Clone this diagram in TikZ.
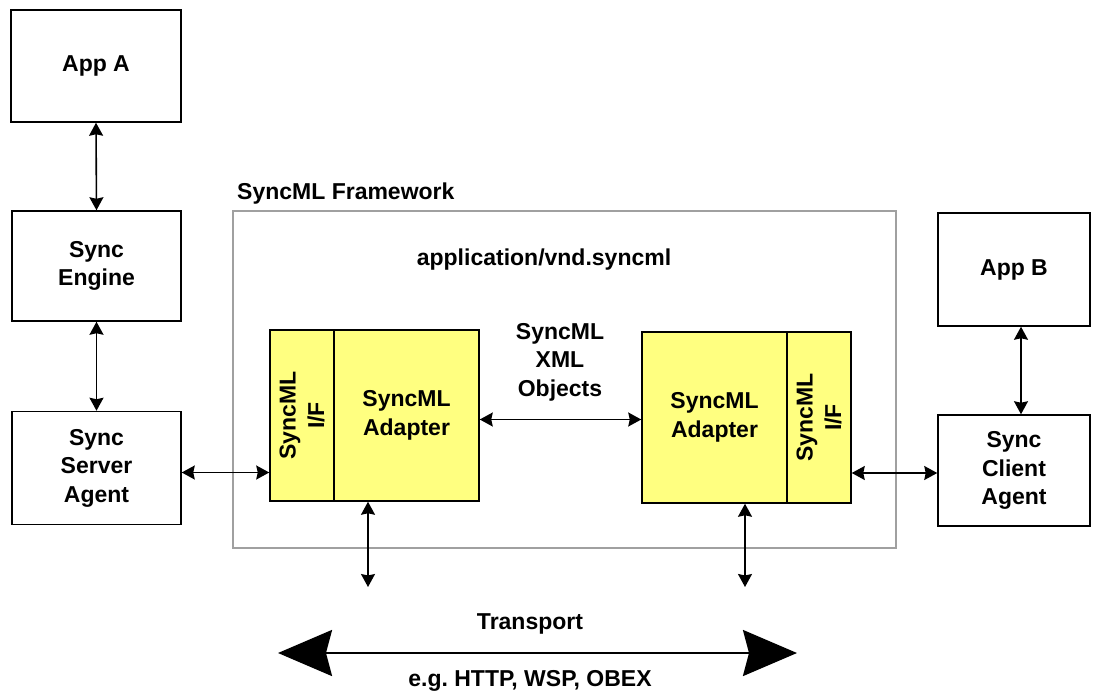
\documentclass[tikz,border=0pt]{standalone}
\usepackage{fontspec}
\setmainfont{Liberation Sans}
\usetikzlibrary{arrows.meta}
\definecolor{adapteryellow}{RGB}{255,255,128}
\definecolor{framegray}{RGB}{160,160,160}

\tikzset{
  lbl/.style={font=\bfseries\fontsize{23}{28.5}\selectfont, inner sep=0pt, align=center},
  box/.style={lbl, draw, line width=1.5pt},
  ybox/.style={box, fill=adapteryellow},
  smalltip/.tip={Stealth[length=13pt,width=14pt,inset=1.5pt]},
  bigtip/.tip={Stealth[length=54pt,width=46pt,inset=6pt]},
  dbl/.style={line width=1.6pt, smalltip-smalltip},
}

\begin{document}
\begin{tikzpicture}[x=1pt,y=-1pt]
\useasboundingbox (0,0) rectangle (1100,693);

% framework container and its captions
\node[draw=framegray, line width=1.5pt, minimum width=663pt, minimum height=337pt] (frame) at (564.5,379.5) {};
\node[lbl, anchor=base west] (fwlabel) at (237,199) {SyncML Framework};
\node[lbl, anchor=base] (mime) at (544,265) {application/vnd.syncml};

% left side: application, engine, server agent
\node[box, minimum width=170pt, minimum height=112pt] (appa) at (96,66) {App A};
\node[box, minimum width=169pt, minimum height=110pt] (engine) at (96.5,266) {Sync\\Engine};
\node[box, minimum width=169pt, minimum height=113pt] (server) at (96.5,468) {Sync\\Server\\Agent};

% right side: application and client agent
\node[box, minimum width=152pt, minimum height=113pt] (appb) at (1014,269.5) {App B};
\node[box, minimum width=152pt, minimum height=111pt] (client) at (1014,470.5) {Sync\\Client\\Agent};

% adapters with their interface strips
\node[ybox, minimum width=64pt, minimum height=171pt] (lif) at (302,415.5) {};
\node[lbl, rotate=90] (liftext) at (lif.center) {SyncML\\I/F};
\node[ybox, minimum width=145pt, minimum height=171pt] (ladapt) at (406.5,415.5) {SyncML\\Adapter};

\node[ybox, minimum width=145pt, minimum height=171pt] (radapt) at (714.5,417.5) {SyncML\\Adapter};
\node[ybox, minimum width=64pt, minimum height=171pt] (rif) at (819,417.5) {};
\node[lbl, rotate=90] (riftext) at (rif.center) {SyncML\\I/F};

\node[lbl] (xmlobj) at (560,362) {SyncML\\XML\\Objects};

% transport
\node[lbl, anchor=base] (transport) at (530,629) {Transport};
\node[lbl, anchor=base] (protocols) at (530,686) {e.g.\ HTTP, WSP, OBEX};
\coordinate (tleft) at (278,653);
\coordinate (tright) at (797,653);
\coordinate (ldown) at (368,587);
\coordinate (rdown) at (745,587);

% connectors
\draw[dbl] (appa.south) -- (engine.north);
\draw[dbl] (engine.south) -- (server.north);
\draw[dbl] ([yshift=-4.5pt]server.east) -- ([yshift=-4.5pt]server.east -| lif.west);
\draw[dbl] ([yshift=-4pt]ladapt.east) -- ([yshift=-4pt]ladapt.east -| radapt.west);
\draw[dbl] ([yshift=-2.5pt]client.west -| rif.east) -- ([yshift=-2.5pt]client.west);
\draw[dbl] ([xshift=7pt]appb.south) -- ([xshift=7pt]client.north);
\draw[dbl] (ladapt.south -| ldown) -- (ldown);
\draw[dbl] (radapt.south -| rdown) -- (rdown);
\draw[line width=2.5pt, bigtip-bigtip] (tleft) -- (tright);
\end{tikzpicture}
\end{document}
